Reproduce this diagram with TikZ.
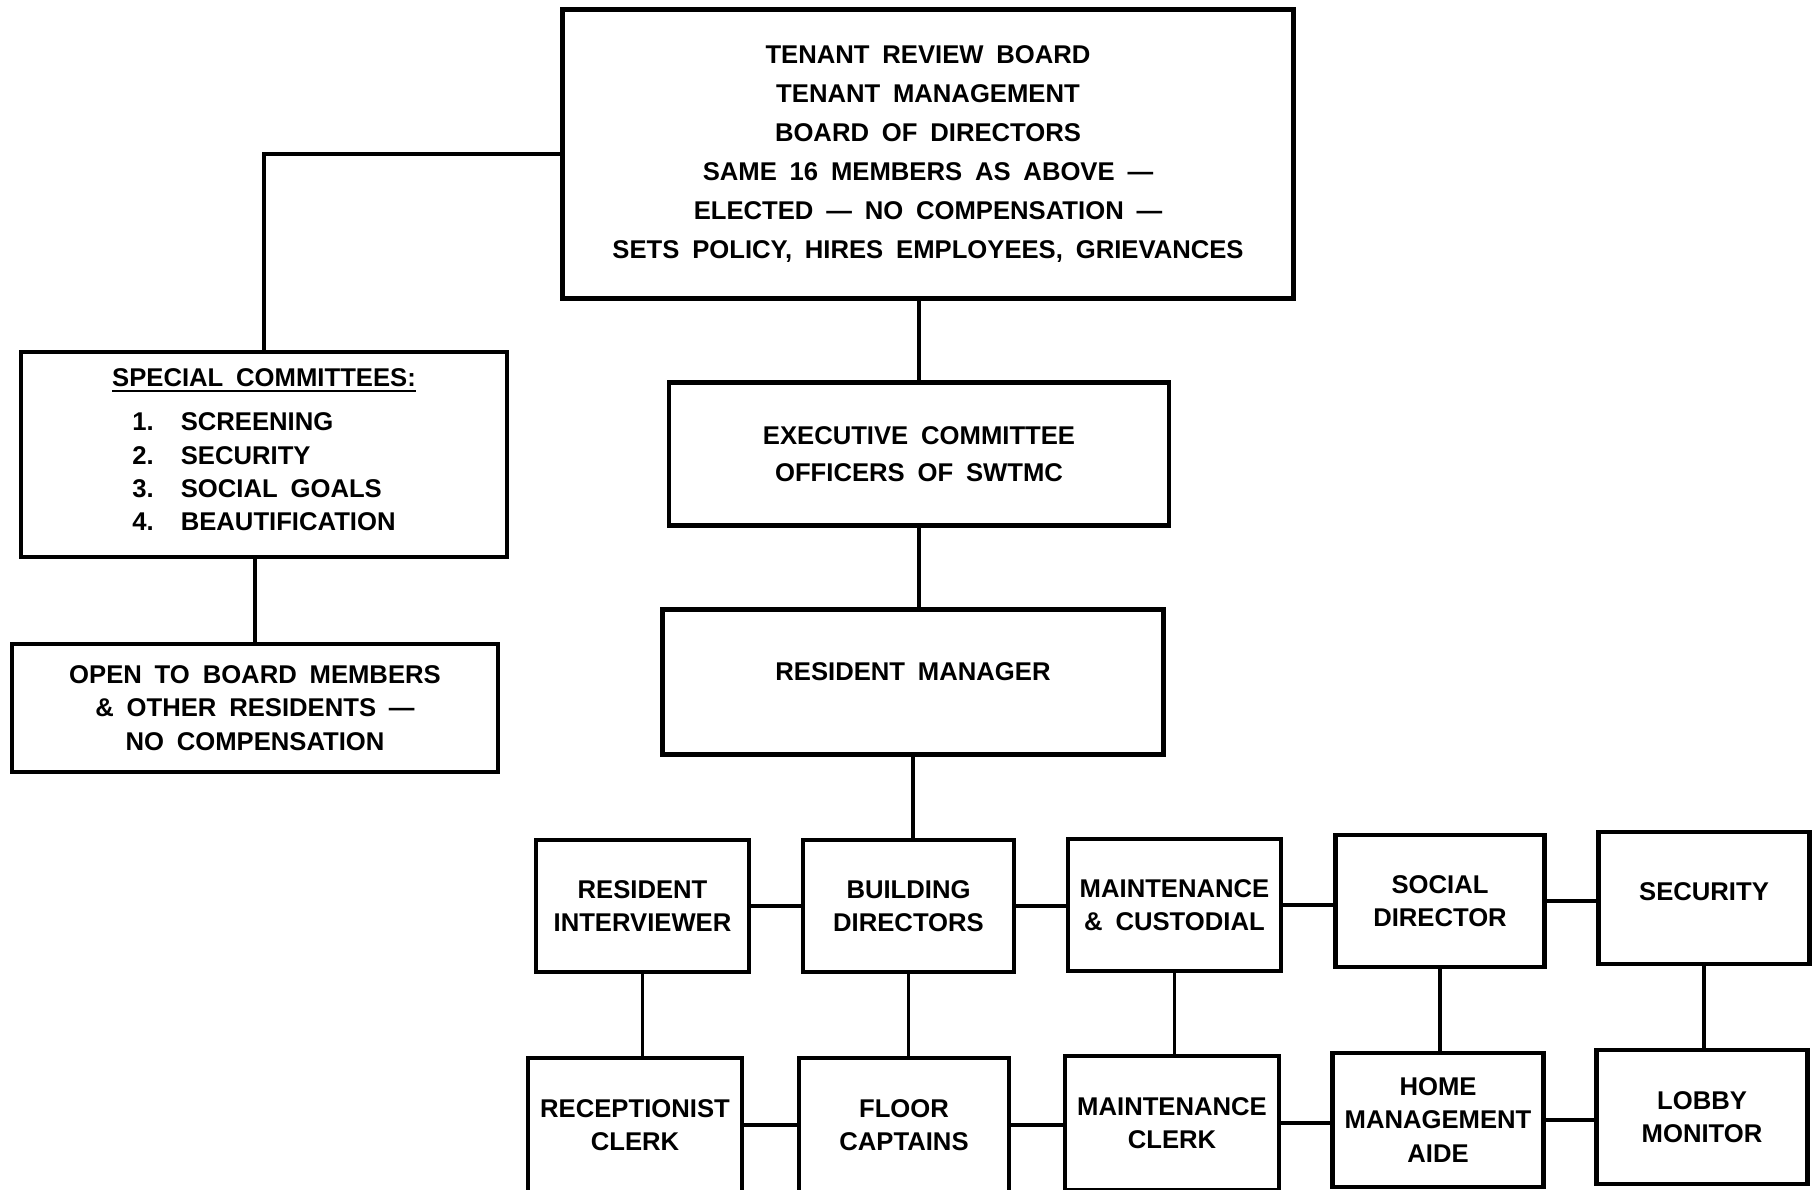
\documentclass[tikz,border=0pt]{standalone}
\usepackage{fontspec}
\setmainfont{Liberation Sans}[WordSpace=1.8]
\usepackage{tikz}
\usetikzlibrary{positioning,calc}

\begin{document}
\begin{tikzpicture}[
    orgbox/.style={draw,line width=1.3pt,align=center,inner sep=0pt,
        font=\bfseries\fontsize{7.3}{9.5}\selectfont},
    wire/.style={line width=1pt}
]
    \useasboundingbox (0,0) rectangle (18.15,-11.90);

    % Board and committees
    \node[orgbox,minimum width=7.31cm,minimum height=2.89cm,
        font=\bfseries\fontsize{7.3}{11.1}\selectfont] (board) at (9.28,-1.54)
        {TENANT REVIEW BOARD\\TENANT MANAGEMENT\\BOARD OF DIRECTORS\\
         SAME 16 MEMBERS AS ABOVE ---\\ELECTED --- NO COMPENSATION ---\\
         SETS POLICY, HIRES EMPLOYEES, GRIEVANCES};
    \node[orgbox,minimum width=4.86cm,minimum height=2.05cm] (special) at (2.64,-4.545)
        {\underline{SPECIAL COMMITTEES:}\\[3pt]
         \begin{tabular}{@{}l@{\hspace{0.27cm}}l@{}}
         1. & SCREENING\\ 2. & SECURITY\\ 3. & SOCIAL GOALS\\ 4. & BEAUTIFICATION
         \end{tabular}};
    \node[orgbox,minimum width=4.86cm,minimum height=1.28cm] (open) at (2.55,-7.08)
        {OPEN TO BOARD MEMBERS\\\& OTHER RESIDENTS ---\\NO COMPENSATION};

    % Management
    \node[orgbox,minimum width=5.00cm,minimum height=1.435cm,
        font=\bfseries\fontsize{7.3}{10.5}\selectfont] (exec) at (9.19,-4.54)
        {EXECUTIVE COMMITTEE\\OFFICERS OF SWTMC};
    \node[orgbox,minimum width=5.01cm,minimum height=1.45cm,text depth=0.2cm] (manager) at (9.13,-6.82)
        {RESIDENT MANAGER};

    % Staff, first row
    \node[orgbox,minimum width=2.13cm,minimum height=1.32cm] (interviewer) at (6.425,-9.06)
        {RESIDENT\\INTERVIEWER};
    \node[orgbox,minimum width=2.11cm,minimum height=1.32cm] (builddir) at (9.085,-9.06)
        {BUILDING\\DIRECTORS};
    \node[orgbox,minimum width=2.13cm,minimum height=1.32cm] (maint) at (11.745,-9.05)
        {MAINTENANCE\\\& CUSTODIAL};
    \node[orgbox,minimum width=2.09cm,minimum height=1.32cm] (social) at (14.40,-9.01)
        {SOCIAL\\DIRECTOR};
    \node[orgbox,minimum width=2.11cm,minimum height=1.32cm,text depth=0.12cm] (security) at (17.04,-8.98)
        {SECURITY};

    % Staff, second row
    \node[orgbox,minimum width=2.14cm,minimum height=1.34cm] (reception) at (6.35,-11.25)
        {RECEPTIONIST\\CLERK};
    \node[orgbox,minimum width=2.10cm,minimum height=1.34cm] (floor) at (9.04,-11.25)
        {FLOOR\\CAPTAINS};
    \node[orgbox,minimum width=2.14cm,minimum height=1.34cm] (mclerk) at (11.72,-11.23)
        {MAINTENANCE\\CLERK};
    \node[orgbox,minimum width=2.11cm,minimum height=1.34cm] (homeaide) at (14.38,-11.20)
        {HOME\\MANAGEMENT\\AIDE};
    \node[orgbox,minimum width=2.11cm,minimum height=1.34cm] (lobby) at (17.02,-11.17)
        {LOBBY\\MONITOR};

    % Connectors
    \draw[wire] (board.west) -| (special.north);
    \draw[wire] (open.north) -- (open.north |- special.south);
    \draw[wire] (exec.north) -- (exec.north |- board.south);
    \draw[wire] (exec.south) -- (exec.south |- manager.north);
    \draw[wire] (manager.south) -- (manager.south |- builddir.north);

    \draw[wire] (interviewer.east) -- (interviewer.east -| builddir.west);
    \draw[wire] (builddir.east) -- (builddir.east -| maint.west);
    \draw[wire] (maint.east) -- (maint.east -| social.west);
    \draw[wire] (social.east) -- (social.east -| security.west);

    \draw[wire] (interviewer.south) -- (interviewer.south |- reception.north);
    \draw[wire] (builddir.south) -- (builddir.south |- floor.north);
    \draw[wire] (maint.south) -- (maint.south |- mclerk.north);
    \draw[wire] (social.south) -- (social.south |- homeaide.north);
    \draw[wire] (security.south) -- (security.south |- lobby.north);

    \draw[wire] (reception.east) -- (reception.east -| floor.west);
    \draw[wire] (floor.east) -- (floor.east -| mclerk.west);
    \draw[wire] (mclerk.east) -- (mclerk.east -| homeaide.west);
    \draw[wire] (homeaide.east) -- (homeaide.east -| lobby.west);
\end{tikzpicture}
\end{document}
